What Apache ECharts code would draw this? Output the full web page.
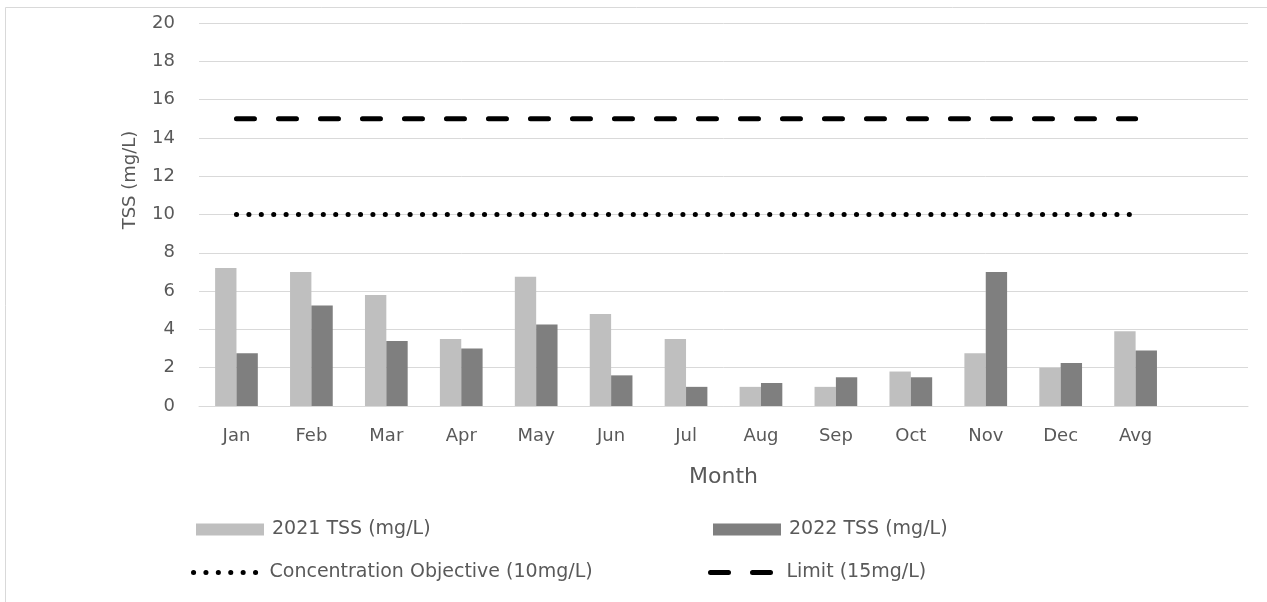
<!DOCTYPE html>
<html>
<head>
<meta charset="utf-8">
<script src="https://cdn.jsdelivr.net/npm/echarts@6/dist/echarts.min.js"></script>
<style>
html,body{margin:0;padding:0;background:#fff;}
#chart{width:1267px;height:602px;}
</style>
</head>
<body>
<div id="chart"></div>
<script>
const months = ['Jan','Feb','Mar','Apr','May','Jun','Jul','Aug','Sep','Oct','Nov','Dec','Avg',''];
const tss2021 = [7.2, 7.0, 5.8, 3.5, 6.75, 4.8, 3.5, 1.0, 1.0, 1.8, 2.75, 2.0, 3.9];
const tss2022 = [2.75, 5.25, 3.4, 3.0, 4.25, 1.6, 1.0, 1.2, 1.5, 1.5, 7.0, 2.25, 2.9];
const objective = [10,10,10,10,10,10,10,10,10,10,10,10,10];
const limit = [15,15,15,15,15,15,15,15,15,15,15,15,15];
const yTicks = {min: 0, max: 20, interval: 2};

const FONT = 'DejaVu Sans';
const TXT = '#595959';
const dotStyle = {color: '#000', width: 5, type: [0.1, 12.3], cap: 'round'};
const dashStyle = {color: '#000', width: 5, type: [18, 24], cap: 'round'};

const chart = echarts.init(document.getElementById('chart'), null, {renderer: 'canvas'});
const legendBase = {
  orient: 'horizontal',
  itemWidth: 68,
  itemHeight: 12,
  padding: 0,
  textStyle: {fontFamily: FONT, fontSize: 19, color: TXT, padding: [0, 0, 0, 3]},
  selectedMode: false
};
chart.setOption({
  animation: false,
  backgroundColor: '#fff',
  textStyle: {fontFamily: FONT},
  grid: {left: 199, right: 19, top: 23, bottom: 196, containLabel: false},
  graphic: [
    {type: 'rect', shape: {x: 5.5, y: 7.5, width: 1300, height: 700}, style: {fill: 'none', stroke: '#d9d9d9', lineWidth: 1}, silent: true, z: -10},
    {type: 'text', x: 130, y: 180, rotation: Math.PI / 2,
     style: {text: 'TSS (mg/L)', fontFamily: FONT, fontSize: 18, fill: TXT, align: 'center', verticalAlign: 'middle'}}
  ],
  legend: [
    Object.assign({}, legendBase, {left: 196, top: 520, data: [{name: '2021 TSS (mg/L)', icon: 'rect'}]}),
    Object.assign({}, legendBase, {left: 713, top: 520, data: [{name: '2022 TSS (mg/L)', icon: 'rect'}]}),
    Object.assign({}, legendBase, {left: 191, top: 563, data: [{name: 'Concentration Objective (10mg/L)', itemStyle: {opacity: 0}, lineStyle: dotStyle}]}),
    Object.assign({}, legendBase, {left: 708, top: 563, data: [{name: 'Limit (15mg/L)', itemStyle: {opacity: 0}, lineStyle: dashStyle}]})
  ],
  xAxis: {
    type: 'category',
    data: months,
    boundaryGap: true,
    name: 'Month',
    nameLocation: 'middle',
    nameGap: 60,
    nameTextStyle: {fontFamily: FONT, fontSize: 22, color: TXT},
    axisLine: {lineStyle: {color: '#d9d9d9', width: 1}},
    axisTick: {show: false},
    axisLabel: {fontFamily: FONT, fontSize: 18, color: TXT, margin: 21, interval: 0}
  },
  yAxis: {
    type: 'value',
    min: yTicks.min, max: yTicks.max, interval: yTicks.interval,
    axisLine: {show: false},
    axisTick: {show: false},
    axisLabel: {fontFamily: FONT, fontSize: 18, color: TXT, margin: 24},
    splitLine: {lineStyle: {color: '#d9d9d9', width: 1}}
  },
  series: [
    {name: '2021 TSS (mg/L)', type: 'bar', data: tss2021, barGap: '0%', barCategoryGap: '43%',
     itemStyle: {color: '#bfbfbf'}},
    {name: '2022 TSS (mg/L)', type: 'bar', data: tss2022, barGap: '0%', barCategoryGap: '43%',
     itemStyle: {color: '#7f7f7f'}},
    {name: 'Concentration Objective (10mg/L)', type: 'line', data: objective, symbol: 'none',
     itemStyle: {color: '#000'}, lineStyle: dotStyle, z: 5},
    {name: 'Limit (15mg/L)', type: 'line', data: limit, symbol: 'none',
     itemStyle: {color: '#000'}, lineStyle: dashStyle, z: 5}
  ]
});
</script>
</body>
</html>
